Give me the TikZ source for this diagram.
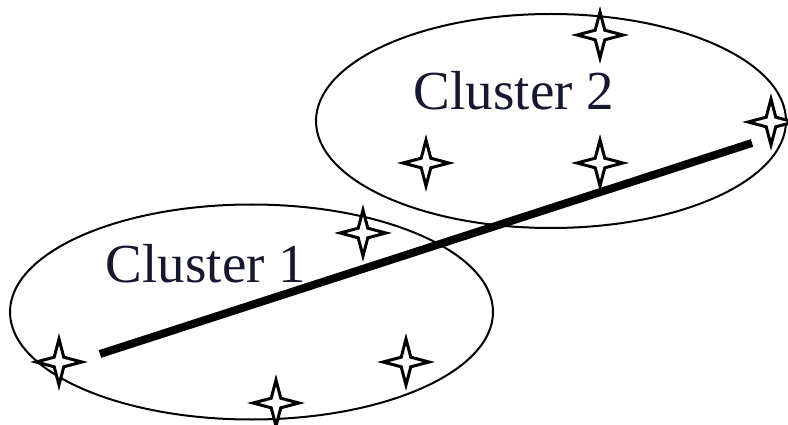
\documentclass[tikz,border=0pt]{standalone}
\usepackage{fontspec}
\setmainfont{Liberation Serif}
\usetikzlibrary{shapes.geometric}
\definecolor{labelink}{HTML}{161830}
\tikzset{
  clusterellipse/.style={ellipse, draw, line width=2pt, inner sep=0pt},
  starpt/.style={star, star points=4, star point ratio=3.4, minimum size=46pt, inner sep=0pt,
                 draw, fill=white, line width=3pt, line join=miter},
  clusterlabel/.style={anchor=base, inner sep=0pt, text=labelink, font=\fontsize{55}{62}\selectfont},
  splitline/.style={line width=8pt, line cap=butt}
}
\begin{document}
\begin{tikzpicture}[x=1pt,y=-1pt]
\useasboundingbox (0,0) rectangle (788,425);
\node[clusterellipse, minimum width=483pt, minimum height=215pt] (c1) at (251.5,312) {};
\node[clusterellipse, minimum width=470pt, minimum height=214pt] (c2) at (551,121) {};
\node[clusterlabel] (l1) at (206,283) {Cluster 1};
\node[clusterlabel] (l2) at (514,110) {Cluster 2};
% cluster 2 points
\node[starpt] (p21) at (600,35) {};
\node[starpt] (p22) at (426,163) {};
\node[starpt] (p23) at (600,163) {};
\node[starpt] (p24) at (771,122) {};
% cluster 1 points
\node[starpt] (p11) at (363,233) {};
\node[starpt] (p12) at (59,362) {};
\node[starpt] (p13) at (406,362) {};
\node[starpt] (p14) at (276,403) {};
\coordinate (a) at (100,354);
\coordinate (b) at (752,143);
\draw[splitline] (a) -- (b);
\end{tikzpicture}
\end{document}
